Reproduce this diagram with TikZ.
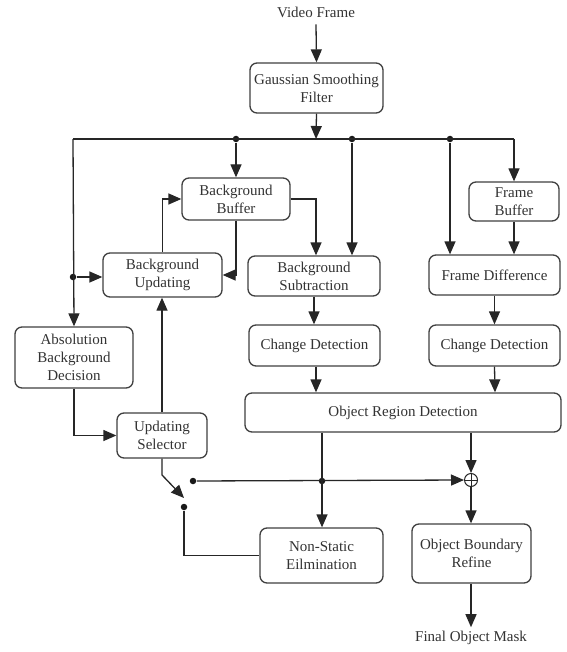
\documentclass[tikz,border=0pt]{standalone}
\usepackage{fontspec}
\setmainfont{Liberation Serif}
\usetikzlibrary{arrows.meta}
\begin{document}
\begin{tikzpicture}[x=1pt,y=-1pt,
  line width=1.3pt,
  every node/.style={font=\fontsize{15}{18}\selectfont, text=black!80},
  blk/.style={draw=black!75, rounded corners=7pt, align=center, inner sep=0pt},
  arr/.style={draw=black!85, -{Triangle[length=13pt,width=11pt]}},
  ln/.style={draw=black!85},
  dot/.style={circle, fill=black!90, inner sep=0pt, minimum size=6.5pt}
]
\useasboundingbox (0,0) rectangle (566,652);
\fill[white] (0,0) rectangle (566,652);

% nodes
\node (vf) at (316,12) {Video Frame};
\node[blk, minimum width=133pt, minimum height=50pt] (gsf) at (316.5,88) {Gaussian Smoothing\\Filter};
\node[blk, minimum width=108pt, minimum height=42pt] (bb) at (236,199) {Background\\Buffer};
\node[blk, minimum width=119pt, minimum height=44pt] (bu) at (162.5,275) {Background\\Updating};
\node[blk, minimum width=132pt, minimum height=40pt] (bs) at (314,276) {Background\\Subtraction};
\node[blk, minimum width=90pt, minimum height=39pt] (fb) at (514,201.5) {Frame\\Buffer};
\node[blk, minimum width=131pt, minimum height=40pt] (fd) at (494.5,275) {Frame Difference};
\node[blk, minimum width=118pt, minimum height=61pt] (abd) at (74,357.5) {Absolution\\Background\\Decision};
\node[blk, minimum width=90pt, minimum height=45pt] (us) at (162,435.5) {Updating\\Selector};
\node[blk, minimum width=131pt, minimum height=41pt] (cd1) at (314.5,345.5) {Change Detection};
\node[blk, minimum width=131pt, minimum height=41pt] (cd2) at (494.5,345.5) {Change Detection};
\node[blk, minimum width=316pt, minimum height=39pt] (ord) at (403,412.5) {Object Region Detection};
\node[blk, minimum width=123pt, minimum height=55pt] (nse) at (321.5,555.5) {Non-Static\\Eilmination};
\node[blk, minimum width=119pt, minimum height=59pt] (obr) at (471.5,553.5) {Object Boundary\\Refine};
\node (fom) at (471,638) {Final Object Mask};
\node[circle, draw=black!85, line width=1pt, inner sep=0pt, minimum size=13pt] (op) at (471,480) {};
\draw[line width=1pt, black!85] (op.north) -- (op.south) (op.west) -- (op.east);

% bus coordinates
\coordinate (bL) at (73,139);
\coordinate (bR) at (514,139);
\coordinate (bG) at (316,139);
\node[dot] (d1) at (236,139) {};
\node[dot] (d2) at (352,139) {};
\node[dot] (d3) at (450,139) {};
\node[dot] (d4) at (73,277) {};
\coordinate (sw) at (162,475);
\coordinate (swtip) at (184,498);
\node[dot] (s1) at (193,481) {};
\node[dot] (s2) at (184,507) {};
\node[dot] (d5) at (322,481) {};

% connectors
\draw[arr] (vf.south) ++(0,3) -- (gsf.north);
\draw[arr] (gsf.south) -- (bG);
\draw[ln] (bL) -- (bR);
\draw[arr] (bL) -- (abd.north);
\draw[arr] (bR) -- (fb.north);
\draw[arr] (d1) -- (bb.north);
\draw[arr] (d2) -- (d2 |- bs.north);
\draw[arr] (d3) -- (d3 |- fd.north);
\draw[arr] (d4) -- (d4 -| bu.west);
\draw[arr] (bb.south) |- (bu.east);
\draw[arr] (bu.north) |- (bb.west);
\draw[arr] (bb.east) -| (316,0 |- bs.north);
\draw[arr] (fb.south) -- (fb.south |- fd.north);
\draw[arr] (bs.south) -- (bs.south |- cd1.north);
\draw[arr] (fd.south) -- (cd2.north);
\draw[arr] (316,0 |- cd1.south) -- (316,0 |- ord.north);
\draw[arr] (cd2.south) -- (495,0 |- ord.north);
\draw[arr] (322,0 |- ord.south) -- (nse.north -| 322,0);
\draw[arr] (471,0 |- ord.south) -- (op.north);
\draw[arr] (op.south) -- (obr.north -| op.south);
\draw[arr] (obr.south -| 471,0) -- (fom.north);
\draw[arr] (abd.south) |- (us.west);
\draw[arr] (us.north) -- (bu.south -| us.north);
\draw[arr] (us.south) -- (sw) -- (swtip);
\draw[arr] (s1) -- (op.west);
\draw[ln] (s2) |- (nse.west);
\end{tikzpicture}
\end{document}
